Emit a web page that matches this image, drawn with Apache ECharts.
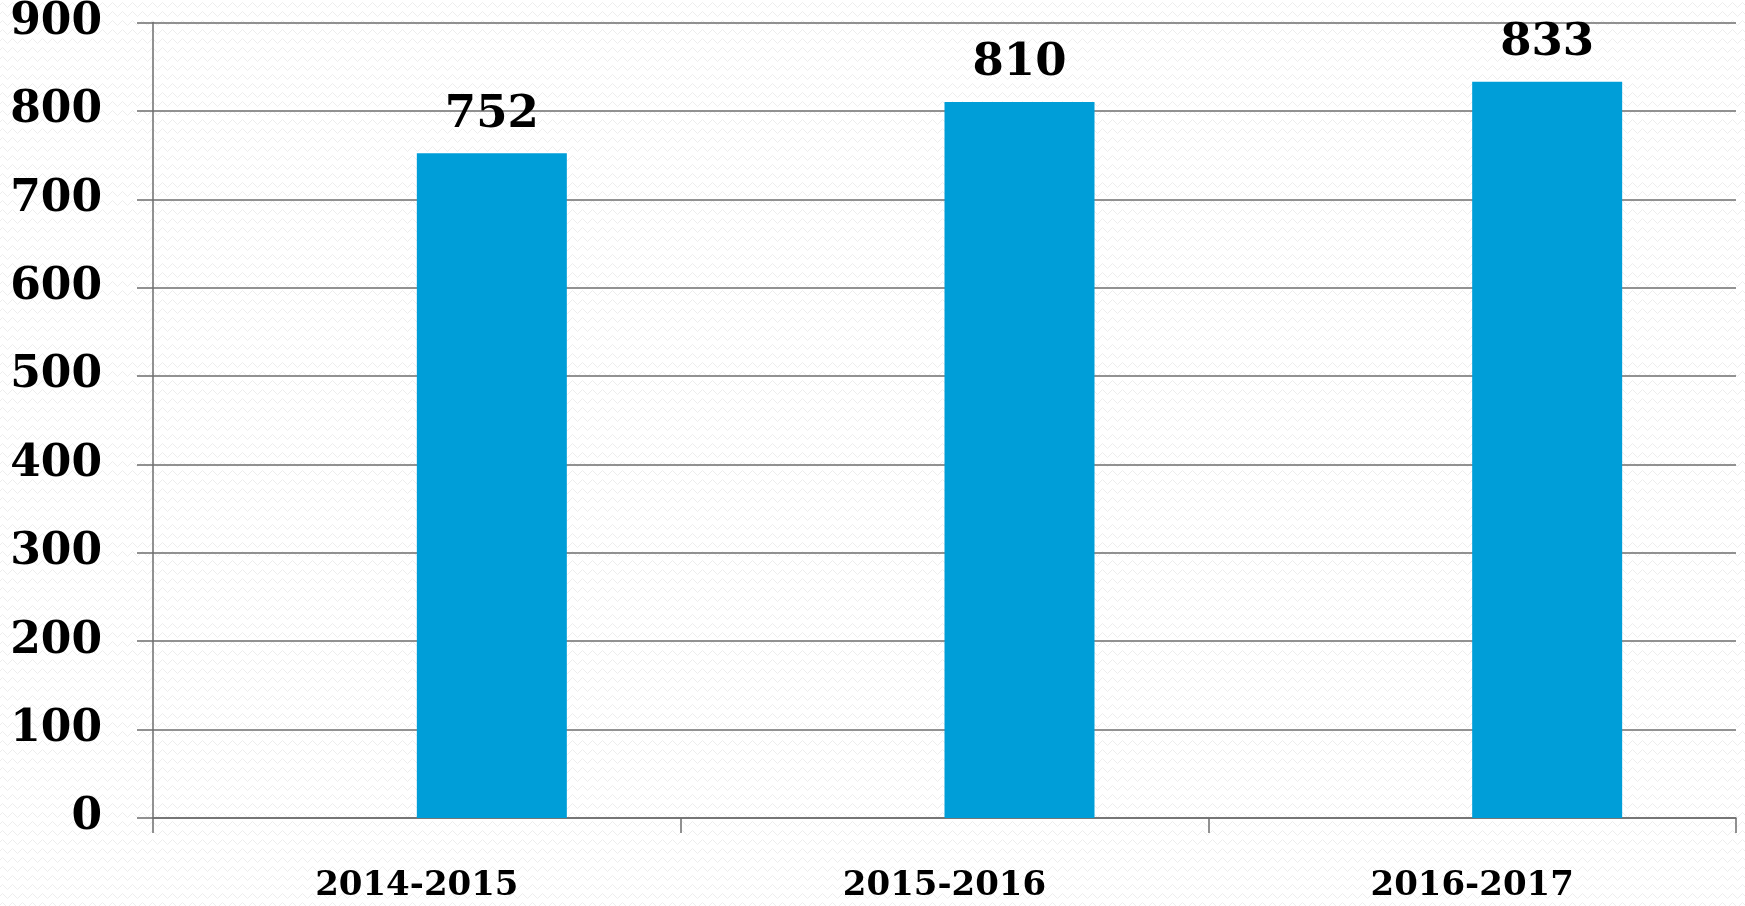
<!DOCTYPE html>
<html>
<head>
<meta charset="utf-8">
<style>
  html, body { margin: 0; padding: 0; background: #ffffff; }
  #chart { width: 1745px; height: 906px; }
</style>
<script src="https://cdn.jsdelivr.net/npm/echarts@6/dist/echarts.min.js"></script>
</head>
<body>
<div id="chart"></div>
<script>
// ---- data ----
const categories = ['2014-2015', '2015-2016', '2016-2017'];
const values = [752, 810, 833];
const emptySlot = [null, null, null]; // empty first series of the cluster (bars sit right of the band centre)
const yTicks = { min: 0, max: 900, interval: 100 };

// ---- background texture (light wavy lines) ----
function makeTexture() {
  const c = document.createElement('canvas');
  c.width = 10; c.height = 9;
  const ctx = c.getContext('2d');
  ctx.fillStyle = '#ffffff';
  ctx.fillRect(0, 0, 10, 9);
  ctx.strokeStyle = '#ededed';
  ctx.lineWidth = 1;
  ctx.beginPath();
  ctx.moveTo(0, 5);
  ctx.lineTo(2.5, 2.5);
  ctx.lineTo(5, 5);
  ctx.lineTo(7.5, 7.5);
  ctx.lineTo(10, 5);
  ctx.stroke();
  return c;
}

const chart = echarts.init(document.getElementById('chart'), null, { renderer: 'canvas' });
const serif = '"DejaVu Serif", "Liberation Serif", serif';
const lineColor = '#6e6e6e';

chart.setOption({
  backgroundColor: { image: makeTexture(), repeat: 'repeat' },
  animation: false,
  grid: { left: 153, right: 9, top: 22.5, bottom: 88 },
  xAxis: {
    type: 'category',
    data: categories,
    boundaryGap: true,
    axisLine: { show: true, lineStyle: { color: lineColor, width: 1.5 } },
    axisTick: { show: true, length: 15, alignWithLabel: false, lineStyle: { color: lineColor, width: 1.5 } },
    axisLabel: { margin: 51, color: '#000', fontFamily: serif, fontWeight: 'bold', fontSize: 34 }
  },
  yAxis: {
    type: 'value',
    min: yTicks.min, max: yTicks.max, interval: yTicks.interval,
    axisLine: { show: true, lineStyle: { color: lineColor, width: 1.5 } },
    axisTick: { show: true, length: 16, lineStyle: { color: lineColor, width: 1.5 } },
    splitLine: { show: true, lineStyle: { color: lineColor, width: 1.5 } },
    axisLabel: { margin: 51, color: '#000', fontFamily: serif, fontWeight: 'bold', fontSize: 44 }
  },
  series: [
    {
      type: 'bar',
      data: emptySlot,
      barWidth: 150,
      barGap: '0%',
      itemStyle: { color: 'transparent' }
    },
    {
      type: 'bar',
      data: values,
      barWidth: 150,
      barGap: '0%',
      itemStyle: { color: '#009ED8' },
      label: {
        show: true, position: 'top', distance: 16,
        color: '#000', fontFamily: serif, fontWeight: 'bold', fontSize: 45
      }
    }
  ]
});
</script>
</body>
</html>
